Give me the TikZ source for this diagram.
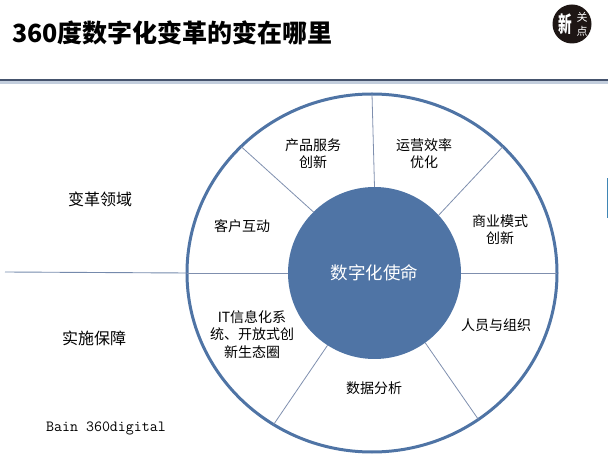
\documentclass[tikz,border=0pt]{standalone}
\usepackage{fontspec}
\usepackage{tikz}
\usetikzlibrary{shapes.geometric}
\newfontfamily\cjk{Noto Sans CJK SC}
\definecolor{ringblue}{HTML}{4F74A5}
\definecolor{spokeblue}{HTML}{7F8FAE}
\definecolor{ruledark}{HTML}{45536D}
\definecolor{ruleshade}{HTML}{C3CEDD}
\definecolor{markblue}{HTML}{3F86B5}
\definecolor{logoblack}{HTML}{1E1614}
\begin{document}
\begin{tikzpicture}[x=1pt,y=-1pt]
	\tikzset{label text/.style={font=\cjk\fontsize{14}{17.5}\selectfont,align=center,inner sep=0pt}}
	\tikzset{side text/.style={font=\cjk\fontsize{16}{19}\selectfont,inner sep=0pt}}
	\tikzset{spoke/.style={draw=spokeblue,line width=0.8pt}}
	\useasboundingbox (0,0) rectangle (608,454);
	\fill[ruleshade] (0,81) rectangle (608,84);
	\fill[ruledark] (0,79) rectangle (608,81);
	\fill[markblue] (606.5,178) rectangle (608,218);
	\node[inner sep=0pt,anchor=west,font=\cjk\bfseries\fontsize{25}{30}\selectfont] (title) at (12,33) {360度数字化变革的变在哪里};
	\node[circle,fill=logoblack,minimum size=39pt,inner sep=0pt] (logo) at (572,24) {};
	\node[inner sep=0pt,text=white,xscale=0.62,font=\cjk\bfseries\fontsize{22}{22}\selectfont] (logoleft) at (565,24) {新};
	\node[inner sep=0pt,text=white,font=\cjk\fontsize{11}{14}\selectfont,align=center] (logoright) at (582,24) {关\\点};
	\node[ellipse,draw=ringblue,line width=3pt,minimum width=370pt,minimum height=358pt,inner sep=0pt,outer sep=0pt] (rim) at (372,273) {};
	\node[ellipse,fill=ringblue,minimum width=173pt,minimum height=172pt,inner sep=0pt,outer sep=0pt,text=white,font=\cjk\fontsize{17.5}{20}\selectfont] (mission) at (374.5,273) {数字化使命};
	\coordinate (leftend) at (5,272);
	\draw[draw=spokeblue!80!ringblue,line width=0.9pt] (leftend) -- (rim.180);
	\draw[spoke] (rim.180) -- (mission.180);
	\draw[spoke] (mission.0) -- (rim.0);
	\draw[spoke] (mission.90) -- (rim.90);
	\draw[spoke] (mission.42) -- (rim.44);
	\draw[spoke] (mission.135) -- (rim.136);
	\draw[spoke] (mission.-54) -- (rim.-54.5);
	\draw[spoke] (mission.237) -- (rim.237);
	\node[label text] (product) at (313,153.5) {产品服务\\创新};
	\node[label text] (operation) at (424,153.5) {运营效率\\优化};
	\node[label text] (customer) at (242,226) {客户互动};
	\node[label text] (business) at (500,229.5) {商业模式\\创新};
	\node[label text] (people) at (496,325) {人员与组织};
	\node[label text] (data) at (374,388) {数据分析};
	\node[label text] (system) at (252,334.5) {IT信息化系\\统、开放式创\\新生态圈};
	\node[side text] (change) at (100,199) {变革领域};
	\node[side text] (support) at (94,338) {实施保障};
	\node[inner sep=0pt,font=\ttfamily\fontsize{15.5}{15.5}\selectfont] (source) at (106,428) {Bain 360digital};
\end{tikzpicture}
\end{document}
